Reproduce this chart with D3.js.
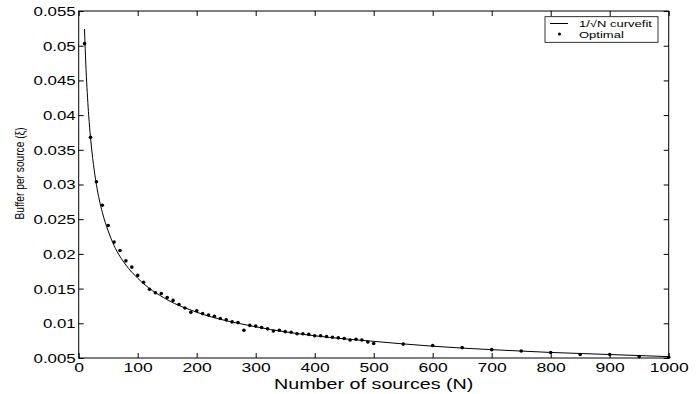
<!DOCTYPE html>
<html><head><meta charset="utf-8">
<script src="https://cdn.jsdelivr.net/npm/d3@7"></script>
<style>
html,body{margin:0;padding:0;background:#fff;}
text{font-family:"Liberation Sans",Arial,Helvetica,sans-serif;fill:#000;}
</style></head>
<body><svg id="c" width="700" height="394"></svg>
<script>
// Optimal buffer per source (data points)
const sourcesN = [10,20,30,40,50,60,70,80,90,100,110,120,130,140,150,160,170,180,190,200,
  210,220,230,240,250,260,270,280,290,300,310,320,330,340,350,360,370,380,390,400,
  410,420,430,440,450,460,470,480,490,500,550,600,650,700,750,800,850,900,950,1000];
const optimalValues = [0.0503,0.0368,0.0304,0.0270,0.0241,0.0217,0.0205,0.0190,0.0181,0.0169,
  0.0159,0.0149,0.0144,0.0143,0.0137,0.0133,0.0127,0.0122,0.0116,0.0118,
  0.0114,0.0112,0.0110,0.0107,0.0105,0.0102,0.0101,0.0090,0.0097,0.0096,
  0.0094,0.0092,0.0089,0.0090,0.0088,0.0087,0.0085,0.0085,0.0084,0.0082,
  0.0082,0.0081,0.0080,0.0079,0.0078,0.0076,0.0077,0.0076,0.0073,0.0071,
  0.0070,0.0068,0.0065,0.0062,0.0060,0.0058,0.0055,0.0055,0.0052,0.0051];
// 1/sqrt(N) curve fit
const fitN = [9.8,11,12,13,15,17,20,25,30,40,50,60,80,100,150,200,300,400,500,600,700,800,900,1000];
const fitValues = [0.0524,0.0496,0.0475,0.0456,0.0425,0.0399,0.0368,0.0329,0.0300,0.0260,0.0233,0.0212,0.0184,0.0165,0.0134,0.0116,0.0095,0.0082,0.0074,0.0067,0.0062,0.0058,0.0055,0.0052];
const xTicks = [0,100,200,300,400,500,600,700,800,900,1000];
const yTicks = [0.005,0.01,0.015,0.02,0.025,0.03,0.035,0.04,0.045,0.05,0.055];
const yTickLabels = ["0.005","0.01","0.015","0.02","0.025","0.03","0.035","0.04","0.045","0.05","0.055"];

const L=78.7, R=668.7, T=11, B=358, SX=1.37;
const svg = d3.select("#c");
const x = d3.scaleLinear().domain([0,1000]).range([L,R]);
const y = d3.scaleLinear().domain([0.005,0.055]).range([B,T]);

// box
svg.append("rect").attr("x",L).attr("y",T).attr("width",R-L).attr("height",B-T)
  .attr("fill","none").attr("stroke","#000").attr("stroke-width",1);

// bottom axis
const gx = svg.append("g").attr("transform",`translate(0,${B})`)
  .call(d3.axisTop(x).tickValues(xTicks).tickSize(5).tickFormat(""));
gx.select(".domain").remove();
gx.selectAll(".tick").append("text").attr("y",13.9).attr("text-anchor","middle")
  .attr("transform",`scale(${SX},1)`).style("font-size","12.8px").text(d=>d);
// top axis ticks
const gxt = svg.append("g").attr("transform",`translate(0,${T})`)
  .call(d3.axisBottom(x).tickValues(xTicks).tickSize(5).tickFormat(""));
gxt.select(".domain").remove();
// left axis
const gy = svg.append("g").attr("transform",`translate(${L},0)`)
  .call(d3.axisRight(y).tickValues(yTicks).tickSize(5).tickFormat(""));
gy.select(".domain").remove();
gy.selectAll(".tick").append("text").attr("x",-3/SX).attr("dy","0.36em").attr("text-anchor","end")
  .attr("transform",`scale(${SX},1)`).style("font-size","12.3px").text((d,i)=>yTickLabels[i]);
// right axis ticks
const gyr = svg.append("g").attr("transform",`translate(${R},0)`)
  .call(d3.axisLeft(y).tickValues(yTicks).tickSize(5).tickFormat(""));
gyr.select(".domain").remove();
svg.selectAll(".tick line").attr("stroke","#000");

// fit curve
const line = d3.line().x((d,i)=>x(fitN[i])).y(d=>y(d)).curve(d3.curveMonotoneX);
svg.append("path").datum(fitValues).attr("d",line).attr("fill","none")
  .attr("stroke","#000").attr("stroke-width",1);

// points
svg.append("g").selectAll("circle").data(optimalValues).join("circle")
  .attr("cx",(d,i)=>x(sourcesN[i])).attr("cy",d=>y(d)).attr("r",1.8).attr("fill","#000");

// axis labels
svg.append("text").attr("transform",`translate(373.7,388.6) scale(${SX},1)`)
  .attr("text-anchor","middle").style("font-size","14.4px").text("Number of sources (N)");
svg.append("text").attr("transform","translate(24,173.5) rotate(-90) scale(1,1.3)")
  .attr("text-anchor","middle").style("font-size","10.2px").text("Buffer per source (ξ)");

// legend
const lg = svg.append("g");
lg.append("rect").attr("x",545).attr("y",16.7).attr("width",113).attr("height",25.6)
  .attr("fill","#fff").attr("stroke","#000").attr("stroke-width",0.8);
lg.append("line").attr("x1",550).attr("x2",568).attr("y1",23.5).attr("y2",23.5).attr("stroke","#000");
lg.append("circle").attr("cx",559.5).attr("cy",34).attr("r",1.5).attr("fill","#000");
lg.append("text").attr("transform",`translate(579,27) scale(1.4,1)`).style("font-size","9.3px").text("1/√N curvefit");
lg.append("text").attr("transform",`translate(579,38) scale(1.4,1)`).style("font-size","9.3px").text("Optimal");
</script></body></html>
